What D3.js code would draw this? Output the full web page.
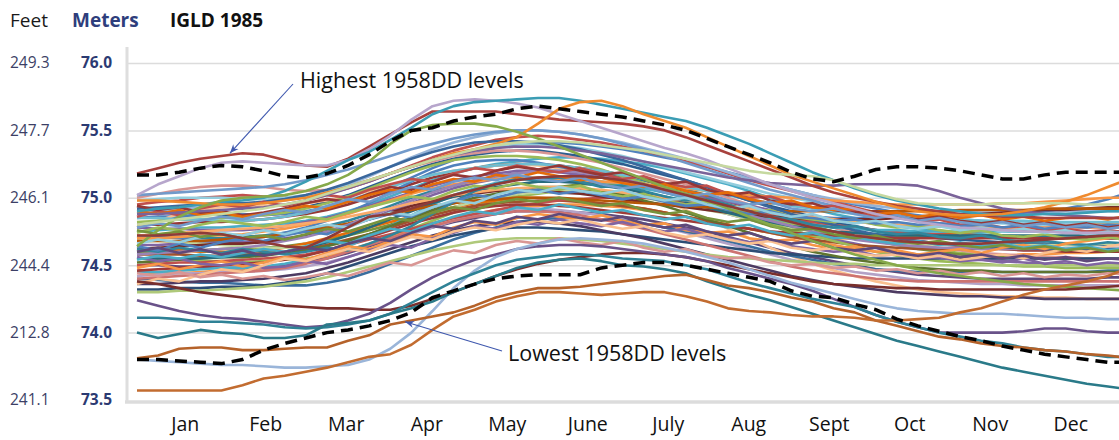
<!DOCTYPE html>
<html>
<head>
<meta charset="utf-8">
<script src="https://cdn.jsdelivr.net/npm/d3@7"></script>
<style>
  body { margin: 0; background: #fff; overflow: hidden; }
  text { font-family: "Open Sans", "Noto Sans", sans-serif; }
</style>
</head>
<body>
<svg id="chart" width="1119" height="440"></svg>
<script>
// months on the axis, values are quarter-monthly (48 per year)
var months = ['Jan', 'Feb', 'Mar', 'Apr', 'May', 'June', 'July', 'Aug', 'Sept', 'Oct', 'Nov', 'Dec']
var meterTicks = [73.5, 74.0, 74.5, 75.0, 75.5, 76.0]
var feetTicks = ['241.1', '212.8', '244.4', '246.1', '247.7', '249.3']

var highest1958DD = [75.17,75.17,75.19,75.22, 75.24,75.23,75.20,75.16, 75.15,75.18,75.24,75.32, 75.42,75.50,75.52,75.57, 75.60,75.62,75.66,75.68, 75.66,75.64,75.62,75.60, 75.57,75.54,75.50,75.44, 75.38,75.32,75.26,75.19, 75.14,75.12,75.16,75.21, 75.23,75.23,75.22,75.20, 75.17,75.14,75.14,75.17, 75.19,75.19,75.19,75.19]
var lowest1958DD = [73.80,73.80,73.79,73.78, 73.77,73.80,73.87,73.92, 73.96,74.00,74.02,74.05, 74.09,74.15,74.26,74.31, 74.36,74.40,74.42,74.43, 74.43,74.43,74.48,74.50, 74.52,74.52,74.50,74.47, 74.44,74.41,74.38,74.31, 74.27,74.26,74.21,74.17, 74.10,74.05,74.01,73.97, 73.94,73.90,73.87,73.84, 73.82,73.80,73.78,73.78]

// one row per year (quarter-monthly lake levels, metres)
var yearLevels = [
  [74.85,74.86,74.86,74.87, 74.88,74.88,74.87,74.88, 74.90,74.93,74.97,75.02, 75.08,75.15,75.22,75.28, 75.33,75.37,75.40,75.41, 75.41,75.40,75.38,75.36, 75.33,75.30,75.27,75.23, 75.19,75.15,75.10,75.06, 75.02,74.98,74.95,74.92, 74.89,74.87,74.85,74.84, 74.83,74.82,74.81,74.81, 74.80,74.80,74.81,74.81],
  [74.95,74.97,74.98,75.00, 75.01,75.02,75.01,75.00, 75.01,75.03,75.07,75.12, 75.18,75.24,75.30,75.35, 75.39,75.43,75.45,75.46, 75.45,75.43,75.41,75.38, 75.35,75.31,75.27,75.23, 75.18,75.13,75.09,75.05, 75.01,74.97,74.93,74.89, 74.86,74.83,74.81,74.79, 74.78,74.77,74.76,74.76, 74.75,74.75,74.75,74.75],
  [74.55,74.54,74.54,74.53, 74.53,74.52,74.53,74.54, 74.55,74.57,74.60,74.65, 74.71,74.77,74.83,74.89, 74.94,74.98,75.01,75.03, 75.05,75.05,75.04,75.03, 75.01,74.99,74.96,74.93, 74.90,74.87,74.84,74.81, 74.78,74.75,74.72,74.69, 74.66,74.63,74.61,74.59, 74.58,74.57,74.56,74.56, 74.55,74.55,74.55,74.55],
  [74.65,74.65,74.66,74.66, 74.67,74.67,74.68,74.70, 74.72,74.75,74.79,74.84, 74.90,74.96,75.02,75.07, 75.11,75.14,75.15,75.15, 75.14,75.12,75.10,75.07, 75.04,75.00,74.96,74.92, 74.88,74.84,74.80,74.76, 74.72,74.69,74.66,74.63, 74.60,74.58,74.56,74.55, 74.54,74.53,74.52,74.51, 74.51,74.50,74.50,74.50],
  [74.75,74.76,74.77,74.78, 74.78,74.79,74.80,74.81, 74.83,74.86,74.90,74.95, 75.01,75.07,75.13,75.18, 75.22,75.25,75.27,75.29, 75.30,75.30,75.29,75.27, 75.25,75.22,75.18,75.14, 75.10,75.05,75.00,74.96, 74.92,74.88,74.85,74.82, 74.79,74.77,74.75,74.74, 74.73,74.72,74.71,74.71, 74.70,74.70,74.70,74.70],
  [74.45,74.44,74.44,74.45, 74.46,74.46,74.47,74.49, 74.52,74.56,74.61,74.66, 74.71,74.76,74.81,74.85, 74.88,74.91,74.93,74.94, 74.95,74.95,74.94,74.93, 74.91,74.89,74.86,74.83, 74.80,74.77,74.74,74.71, 74.68,74.65,74.62,74.60, 74.58,74.57,74.56,74.56, 74.57,74.57,74.58,74.58, 74.59,74.59,74.60,74.60],
  [74.90,74.90,74.89,74.88, 74.87,74.87,74.88,74.90, 74.93,74.97,75.02,75.08, 75.14,75.20,75.25,75.29, 75.32,75.34,75.35,75.35, 75.33,75.31,75.28,75.25, 75.21,75.17,75.13,75.08, 75.03,74.98,74.94,74.90, 74.86,74.82,74.79,74.76, 74.74,74.72,74.70,74.69, 74.68,74.67,74.66,74.66, 74.65,74.65,74.65,74.65],
  [74.80,74.80,74.81,74.82, 74.82,74.83,74.84,74.86, 74.88,74.91,74.95,75.00, 75.05,75.10,75.15,75.19, 75.22,75.24,75.25,75.25, 75.24,75.22,75.20,75.17, 75.13,75.09,75.05,75.01, 74.97,74.93,74.89,74.85, 74.81,74.78,74.75,74.72, 74.70,74.68,74.66,74.64, 74.63,74.62,74.61,74.61, 74.60,74.60,74.60,74.60],
  [74.60,74.60,74.61,74.61, 74.62,74.63,74.63,74.64, 74.66,74.69,74.72,74.76, 74.80,74.85,74.89,74.93, 74.97,75.00,75.03,75.06, 75.08,75.10,75.10,75.09, 75.07,75.05,75.02,74.99, 74.95,74.91,74.87,74.83, 74.79,74.75,74.71,74.68, 74.65,74.62,74.60,74.58, 74.57,74.56,74.55,74.55, 74.55,74.55,74.55,74.55],
  [74.50,74.50,74.49,74.49, 74.48,74.48,74.49,74.50, 74.52,74.55,74.59,74.64, 74.69,74.74,74.78,74.82, 74.85,74.88,74.90,74.90, 74.90,74.89,74.88,74.86, 74.84,74.81,74.78,74.75, 74.71,74.67,74.63,74.59, 74.56,74.53,74.50,74.47, 74.45,74.43,74.42,74.41, 74.40,74.40,74.40,74.40, 74.40,74.40,74.41,74.41],
  [74.70,74.71,74.71,74.70, 74.70,74.71,74.72,74.74, 74.76,74.79,74.83,74.88, 74.94,75.00,75.05,75.09, 75.13,75.16,75.18,75.20, 75.20,75.19,75.18,75.16, 75.13,75.10,75.06,75.02, 74.98,74.94,74.90,74.86, 74.83,74.80,74.78,74.76, 74.74,74.73,74.72,74.71, 74.71,74.70,74.70,74.70, 74.70,74.70,74.71,74.71],
  [74.62,74.62,74.61,74.60, 74.60,74.60,74.61,74.63, 74.66,74.70,74.74,74.78, 74.82,74.86,74.90,74.93, 74.96,74.98,75.00,75.00, 74.99,74.98,74.96,74.94, 74.92,74.89,74.86,74.83, 74.80,74.77,74.75,74.73, 74.71,74.70,74.70,74.70, 74.71,74.72,74.73,74.74, 74.75,74.76,74.77,74.78, 74.79,74.80,74.81,74.82],
  [74.88,74.90,74.92,74.93, 74.94,74.95,74.96,74.98, 75.01,75.05,75.10,75.16, 75.23,75.30,75.36,75.41, 75.45,75.48,75.50,75.50, 75.49,75.47,75.44,75.41, 75.37,75.33,75.29,75.24, 75.19,75.14,75.10,75.06, 75.02,74.99,74.96,74.94, 74.92,74.91,74.90,74.90, 74.89,74.89,74.89,74.89, 74.90,74.90,74.90,74.90],
  [75.00,75.03,75.06,75.08, 75.09,75.09,75.08,75.06, 75.05,75.06,75.09,75.13, 75.18,75.23,75.27,75.31, 75.33,75.35,75.35,75.34, 75.32,75.29,75.26,75.22, 75.18,75.14,75.10,75.05, 75.00,74.95,74.90,74.86, 74.82,74.78,74.74,74.71, 74.68,74.65,74.63,74.61, 74.59,74.58,74.57,74.56, 74.56,74.55,74.55,74.55],
  [74.68,74.68,74.67,74.66, 74.65,74.64,74.63,74.63, 74.64,74.66,74.69,74.73, 74.78,74.83,74.88,74.93, 74.97,75.00,75.03,75.04, 75.05,75.05,75.04,75.02, 75.00,74.97,74.94,74.91, 74.88,74.84,74.81,74.78, 74.75,74.72,74.70,74.68, 74.67,74.66,74.65,74.65, 74.65,74.65,74.65,74.65, 74.65,74.65,74.66,74.66],
  [74.42,74.43,74.44,74.44, 74.45,74.45,74.46,74.47, 74.49,74.52,74.56,74.61, 74.67,74.73,74.78,74.83, 74.87,74.90,74.92,74.92, 74.91,74.89,74.87,74.84, 74.81,74.78,74.74,74.70, 74.66,74.62,74.58,74.54, 74.51,74.48,74.45,74.43, 74.41,74.39,74.38,74.37, 74.36,74.36,74.35,74.35, 74.35,74.35,74.35,74.35],
  [74.98,74.99,75.00,75.00, 75.00,74.99,74.99,75.00, 75.02,75.05,75.09,75.13, 75.18,75.23,75.28,75.32, 75.36,75.38,75.40,75.40, 75.39,75.37,75.34,75.31, 75.27,75.23,75.19,75.15, 75.11,75.07,75.03,75.00, 74.97,74.94,74.91,74.89, 74.87,74.85,74.84,74.83, 74.82,74.81,74.81,74.80, 74.80,74.80,74.80,74.80],
  [74.78,74.83,74.88,74.91, 74.93,74.94,74.94,74.95, 74.96,74.98,75.01,75.05, 75.09,75.13,75.17,75.20, 75.22,75.24,75.25,75.24, 75.22,75.19,75.15,75.10, 75.04,74.98,74.91,74.84, 74.77,74.70,74.63,74.57, 74.51,74.46,74.42,74.38, 74.35,74.32,74.30,74.29, 74.28,74.27,74.27,74.26, 74.26,74.25,74.25,74.25],
  [74.40,74.39,74.38,74.37, 74.37,74.36,74.35,74.35, 74.35,74.37,74.40,74.45, 74.51,74.57,74.63,74.69, 74.74,74.78,74.82,74.84, 74.85,74.85,74.84,74.83, 74.81,74.78,74.75,74.72, 74.68,74.64,74.60,74.57, 74.54,74.51,74.49,74.47, 74.46,74.45,74.45,74.45, 74.45,74.45,74.45,74.45, 74.45,74.45,74.46,74.46],
  [74.58,74.58,74.58,74.57, 74.57,74.58,74.59,74.60, 74.62,74.65,74.69,74.73, 74.78,74.83,74.87,74.91, 74.94,74.96,74.97,74.98, 74.98,74.97,74.96,74.94, 74.92,74.89,74.86,74.83, 74.80,74.77,74.74,74.71, 74.69,74.67,74.65,74.64, 74.63,74.62,74.62,74.62, 74.62,74.62,74.62,74.62, 74.62,74.62,74.62,74.62],
  [74.72,74.71,74.70,74.68, 74.68,74.69,74.71,74.74, 74.78,74.83,74.89,74.96, 75.04,75.12,75.19,75.24, 75.27,75.28,75.28,75.26, 75.23,75.20,75.16,75.12, 75.08,75.04,75.00,74.97, 74.94,74.91,74.89,74.87, 74.86,74.85,74.85,74.85, 74.86,74.86,74.87,74.87, 74.88,74.88,74.89,74.90, 74.92,74.95,74.99,75.04],
  [74.50,74.51,74.52,74.52, 74.53,74.54,74.55,74.56, 74.58,74.61,74.65,74.69, 74.73,74.77,74.81,74.85, 74.88,74.91,74.94,74.96, 74.98,74.99,75.00,75.00, 75.00,74.99,74.97,74.95, 74.93,74.90,74.87,74.84, 74.82,74.80,74.78,74.76, 74.75,74.74,74.73,74.72, 74.72,74.71,74.71,74.70, 74.70,74.70,74.70,74.70],
  [74.82,74.83,74.84,74.84, 74.85,74.86,74.87,74.89, 74.92,74.96,75.01,75.07, 75.13,75.19,75.24,75.28, 75.30,75.31,75.31,75.30, 75.28,75.25,75.21,75.16, 75.11,75.06,75.01,74.96, 74.91,74.86,74.81,74.76, 74.72,74.68,74.64,74.60, 74.57,74.55,74.53,74.52, 74.51,74.50,74.49,74.49, 74.48,74.48,74.48,74.48],
  [74.78,74.77,74.77,74.76, 74.76,74.76,74.77,74.79, 74.82,74.85,74.89,74.94, 74.99,75.04,75.09,75.13, 75.16,75.18,75.20,75.20, 75.19,75.17,75.15,75.12, 75.09,75.06,75.03,75.00, 74.97,74.94,74.91,74.88, 74.86,74.84,74.82,74.81, 74.80,74.79,74.79,74.78, 74.78,74.78,74.78,74.78, 74.78,74.78,74.78,74.78],
  [74.45,74.45,74.46,74.47, 74.48,74.48,74.49,74.51, 74.54,74.58,74.64,74.71, 74.79,74.87,74.95,75.02, 75.07,75.11,75.14,75.15, 75.15,75.14,75.12,75.10, 75.07,75.04,75.00,74.96, 74.92,74.88,74.85,74.82, 74.80,74.78,74.77,74.76, 74.76,74.75,74.75,74.75, 74.75,74.75,74.75,74.75, 74.75,74.75,74.75,74.75],
  [74.70,74.70,74.71,74.72, 74.72,74.73,74.75,74.77, 74.80,74.84,74.88,74.93, 74.98,75.03,75.07,75.10, 75.12,75.14,75.15,75.15, 75.14,75.13,75.12,75.11, 75.10,75.08,75.07,75.05, 75.04,75.02,75.01,75.00, 74.99,74.98,74.97,74.96, 74.95,74.95,74.95,74.95, 74.95,74.96,74.96,74.97, 74.98,74.99,75.00,75.00],
  [74.32,74.32,74.33,74.33, 74.34,74.34,74.35,74.37, 74.40,74.44,74.49,74.54, 74.59,74.64,74.68,74.72, 74.75,74.77,74.78,74.78, 74.77,74.76,74.75,74.73, 74.71,74.69,74.67,74.65, 74.63,74.61,74.59,74.58, 74.57,74.56,74.55,74.55, 74.55,74.55,74.55,74.55, 74.55,74.55,74.55,74.55, 74.55,74.55,74.55,74.55],
  [74.62,74.63,74.64,74.65, 74.66,74.66,74.67,74.69, 74.72,74.75,74.79,74.84, 74.89,74.94,74.98,75.01, 75.03,75.05,75.05,75.05, 75.04,75.03,75.01,74.99, 74.97,74.95,74.93,74.91, 74.89,74.87,74.86,74.85, 74.84,74.84,74.84,74.84, 74.85,74.85,74.86,74.87, 74.88,74.89,74.90,74.91, 74.91,74.92,74.93,74.93],
  [74.52,74.53,74.54,74.55, 74.56,74.56,74.57,74.59, 74.61,74.64,74.68,74.73, 74.79,74.85,74.91,74.96, 75.00,75.03,75.06,75.08, 75.08,75.07,75.05,75.02, 74.98,74.94,74.89,74.84, 74.79,74.74,74.69,74.64, 74.60,74.57,74.54,74.52, 74.50,74.48,74.47,74.46, 74.46,74.45,74.45,74.45, 74.45,74.45,74.45,74.45],
  [74.36,74.36,74.37,74.38, 74.38,74.39,74.40,74.42, 74.44,74.48,74.52,74.57, 74.62,74.67,74.72,74.76, 74.79,74.81,74.82,74.82, 74.81,74.79,74.76,74.73, 74.70,74.66,74.62,74.58, 74.54,74.50,74.46,74.42, 74.39,74.36,74.34,74.32, 74.30,74.29,74.28,74.27, 74.27,74.26,74.26,74.25, 74.25,74.25,74.25,74.25],
  [74.55,74.55,74.55,74.55, 74.56,74.57,74.58,74.60, 74.63,74.67,74.72,74.78, 74.84,74.90,74.96,75.01, 75.05,75.08,75.10,75.12, 75.12,75.11,75.09,75.07, 75.04,75.01,74.97,74.93, 74.89,74.85,74.82,74.79, 74.77,74.75,74.74,74.73, 74.72,74.72,74.72,74.72, 74.72,74.72,74.72,74.72, 74.72,74.72,74.72,74.72],
  [74.68,74.68,74.68,74.68, 74.69,74.70,74.71,74.73, 74.75,74.78,74.81,74.85, 74.88,74.91,74.94,74.96, 74.98,74.99,75.00,75.00, 75.00,74.99,74.98,74.97, 74.96,74.95,74.94,74.93, 74.92,74.91,74.90,74.90, 74.90,74.90,74.90,74.90, 74.90,74.90,74.90,74.91, 74.91,74.91,74.91,74.92, 74.92,74.92,74.92,74.92],
  [75.02,75.03,75.04,75.05, 75.06,75.07,75.08,75.10, 75.13,75.17,75.21,75.26, 75.31,75.36,75.40,75.44, 75.47,75.49,75.50,75.50, 75.49,75.47,75.44,75.40, 75.36,75.31,75.26,75.21, 75.16,75.11,75.06,75.02, 74.98,74.94,74.91,74.88, 74.85,74.83,74.81,74.80, 74.79,74.78,74.77,74.76, 74.76,74.75,74.75,74.75],
  [74.40,74.41,74.42,74.43, 74.44,74.45,74.46,74.48, 74.51,74.55,74.60,74.65, 74.70,74.75,74.79,74.83, 74.86,74.88,74.90,74.90, 74.89,74.87,74.84,74.81, 74.77,74.73,74.69,74.65, 74.61,74.57,74.53,74.49, 74.46,74.44,74.42,74.40, 74.39,74.38,74.38,74.38, 74.38,74.38,74.38,74.38, 74.38,74.38,74.38,74.38],
  [74.30,74.30,74.31,74.31, 74.32,74.33,74.34,74.36, 74.38,74.41,74.45,74.49, 74.53,74.57,74.61,74.64, 74.67,74.69,74.70,74.70, 74.70,74.69,74.68,74.66, 74.64,74.62,74.60,74.58, 74.56,74.55,74.54,74.53, 74.52,74.51,74.51,74.50, 74.50,74.50,74.50,74.50, 74.50,74.50,74.50,74.50, 74.50,74.50,74.50,74.50],
  [74.58,74.59,74.60,74.61, 74.62,74.63,74.65,74.68, 74.71,74.75,74.80,74.86, 74.92,74.98,75.04,75.09, 75.13,75.16,75.18,75.20, 75.20,75.19,75.17,75.14, 75.10,75.06,75.02,74.97, 74.92,74.87,74.83,74.79, 74.75,74.72,74.69,74.67, 74.65,74.64,74.63,74.63, 74.62,74.62,74.62,74.62, 74.62,74.62,74.62,74.62],
  [74.85,74.85,74.84,74.84, 74.83,74.83,74.84,74.86, 74.89,74.93,74.98,75.03, 75.08,75.13,75.17,75.20, 75.22,75.24,75.25,75.25, 75.24,75.22,75.20,75.17, 75.14,75.11,75.08,75.05, 75.02,74.99,74.96,74.94, 74.92,74.90,74.88,74.87, 74.86,74.85,74.84,74.84, 74.83,74.83,74.83,74.82, 74.82,74.82,74.82,74.82],
  [74.72,74.73,74.74,74.75, 74.76,74.77,74.78,74.79, 74.81,74.83,74.86,74.89, 74.92,74.96,74.99,75.02, 75.04,75.06,75.07,75.08, 75.08,75.07,75.06,75.04, 75.02,75.00,74.98,74.96, 74.94,74.92,74.90,74.88, 74.86,74.84,74.82,74.81, 74.80,74.79,74.79,74.78, 74.78,74.78,74.78,74.78, 74.78,74.78,74.78,74.78],
  [74.92,74.93,74.94,74.95, 74.96,74.96,74.97,74.99, 75.02,75.06,75.11,75.17, 75.23,75.29,75.34,75.38, 75.41,75.42,75.42,75.41, 75.39,75.36,75.32,75.28, 75.23,75.18,75.13,75.08, 75.03,74.98,74.93,74.88, 74.84,74.80,74.76,74.73, 74.70,74.68,74.66,74.65, 74.64,74.63,74.63,74.62, 74.62,74.62,74.62,74.62],
  [74.46,74.47,74.48,74.49, 74.50,74.51,74.52,74.54, 74.57,74.61,74.66,74.71, 74.76,74.81,74.85,74.89, 74.92,74.94,74.95,74.95, 74.94,74.93,74.91,74.89, 74.87,74.85,74.83,74.81, 74.79,74.77,74.75,74.74, 74.73,74.72,74.71,74.71, 74.70,74.70,74.70,74.70, 74.70,74.70,74.70,74.70, 74.70,74.70,74.70,74.70],
  [74.62,74.60,74.63,74.61, 74.59,74.62,74.60,74.58, 74.60,74.63,74.61,74.66, 74.72,74.79,74.88,74.97, 75.05,75.10,75.14,75.13, 75.15,75.12,75.08,75.09, 75.05,75.01,74.98,74.99, 74.95,74.90,74.86,74.84, 74.80,74.78,74.79,74.75, 74.73,74.74,74.71,74.70, 74.72,74.69,74.67,74.68, 74.66,74.65,74.67,74.66],
  [74.48,74.51,74.47,74.50, 74.53,74.49,74.52,74.56, 74.54,74.59,74.64,74.62, 74.68,74.73,74.71,74.78, 74.82,74.80,74.85,74.88, 74.86,74.84,74.87,74.83, 74.80,74.81,74.76,74.74, 74.75,74.70,74.68,74.69, 74.65,74.62,74.64,74.60, 74.61,74.58,74.60,74.62, 74.59,74.63,74.65,74.62, 74.66,74.68,74.70,74.73],
  [74.86,74.90,74.87,74.92, 74.95,74.93,74.97,74.94, 74.98,75.02,75.00,75.06, 75.10,75.14,75.12,75.18, 75.22,75.20,75.24,75.21, 75.19,75.22,75.18,75.14, 75.16,75.11,75.08,75.09, 75.03,75.00,75.01,74.96, 74.93,74.94,74.90,74.86, 74.87,74.83,74.84,74.80, 74.81,74.78,74.79,74.76, 74.77,74.75,74.76,74.74],
  [74.56,74.53,74.55,74.51, 74.50,74.52,74.48,74.49, 74.53,74.51,74.56,74.61, 74.65,74.63,74.70,74.74, 74.79,74.77,74.82,74.80, 74.84,74.81,74.79,74.82, 74.78,74.75,74.77,74.72, 74.70,74.67,74.69,74.64, 74.62,74.60,74.61,74.57, 74.58,74.55,74.56,74.53, 74.54,74.52,74.55,74.51, 74.53,74.50,74.52,74.51],
  [74.74,74.78,74.76,74.80, 74.83,74.81,74.79,74.82, 74.86,74.84,74.89,74.93, 74.97,75.01,74.99,75.05, 75.09,75.07,75.11,75.08, 75.06,75.09,75.04,75.01, 75.03,74.98,74.95,74.97, 74.92,74.89,74.91,74.86, 74.84,74.82,74.84,74.80, 74.78,74.79,74.76,74.74, 74.76,74.72,74.71,74.73, 74.70,74.69,74.71,74.68],
  [74.64,74.61,74.66,74.63, 74.67,74.70,74.68,74.72, 74.75,74.73,74.79,74.84, 74.88,74.86,74.93,74.97, 75.02,75.00,75.04,75.06, 75.03,75.05,75.02,74.99, 75.01,74.97,74.94,74.95, 74.91,74.88,74.90,74.86, 74.85,74.83,74.84,74.81, 74.82,74.80,74.81,74.79, 74.80,74.78,74.80,74.77, 74.79,74.78,74.80,74.79],
  [74.36,74.40,74.38,74.43, 74.47,74.45,74.50,74.55, 74.53,74.58,74.62,74.60, 74.66,74.71,74.69,74.75, 74.78,74.76,74.80,74.83, 74.81,74.84,74.80,74.77, 74.79,74.74,74.71,74.73, 74.69,74.66,74.68,74.63, 74.61,74.63,74.59,74.57, 74.58,74.55,74.57,74.54, 74.56,74.58,74.55,74.59, 74.62,74.60,74.64,74.66],
  [74.94,74.91,74.93,74.89, 74.90,74.87,74.89,74.92, 74.96,74.99,74.97,75.03, 75.08,75.06,75.12,75.17, 75.15,75.20,75.23,75.21, 75.24,75.20,75.17,75.19, 75.14,75.10,75.12,75.06, 75.02,75.04,74.98,74.95, 74.96,74.91,74.89,74.90, 74.86,74.84,74.86,74.83, 74.81,74.83,74.80,74.82, 74.79,74.81,74.78,74.80],
  [74.54,74.57,74.55,74.58, 74.56,74.59,74.62,74.60, 74.64,74.68,74.66,74.72, 74.77,74.75,74.81,74.86, 74.90,74.88,74.93,74.91, 74.95,74.92,74.89,74.91, 74.87,74.84,74.86,74.81, 74.78,74.80,74.75,74.72, 74.74,74.70,74.71,74.68, 74.66,74.68,74.65,74.67, 74.64,74.66,74.63,74.65, 74.62,74.64,74.61,74.63],
  [74.44,74.42,74.45,74.41, 74.43,74.40,74.42,74.39, 74.41,74.44,74.42,74.47, 74.52,74.50,74.56,74.61, 74.59,74.65,74.68,74.66, 74.70,74.67,74.65,74.68, 74.63,74.60,74.62,74.57, 74.55,74.56,74.52,74.50, 74.51,74.48,74.49,74.46, 74.47,74.44,74.46,74.43, 74.45,74.42,74.44,74.41, 74.43,74.42,74.44,74.43],
  [74.90,74.88,74.91,74.87, 74.89,74.86,74.88,74.91, 74.94,74.92,74.97,75.02, 75.06,75.04,75.10,75.14, 75.12,75.17,75.15,75.19, 75.16,75.13,75.15,75.11, 75.08,75.10,75.05,75.02, 75.04,74.99,74.96,74.98, 74.93,74.91,74.92,74.88, 74.89,74.86,74.88,74.85, 74.87,74.84,74.86,74.83, 74.85,74.86,74.84,74.87],
  [74.78,74.81,74.79,74.83, 74.86,74.84,74.88,74.91, 74.89,74.94,74.99,74.97, 75.03,75.08,75.06,75.12, 75.15,75.13,75.17,75.14, 75.12,75.15,75.10,75.07, 75.09,75.04,75.01,75.03, 74.98,74.95,74.97,74.92, 74.90,74.92,74.88,74.85, 74.87,74.83,74.85,74.82, 74.80,74.82,74.79,74.81, 74.78,74.80,74.77,74.79],
  [74.60,74.63,74.59,74.62, 74.58,74.61,74.57,74.60, 74.63,74.61,74.66,74.70, 74.68,74.74,74.79,74.77, 74.83,74.81,74.86,74.84, 74.88,74.85,74.83,74.86, 74.81,74.78,74.80,74.75, 74.72,74.74,74.69,74.66, 74.68,74.63,74.61,74.63, 74.59,74.57,74.59,74.56, 74.58,74.55,74.57,74.54, 74.56,74.53,74.55,74.54],
  [74.66,74.69,74.67,74.71, 74.74,74.72,74.76,74.73, 74.77,74.80,74.78,74.84, 74.89,74.87,74.93,74.98, 74.96,75.02,75.06,75.04, 75.08,75.05,75.03,75.06, 75.01,74.98,75.00,74.95, 74.92,74.94,74.89,74.86, 74.88,74.83,74.81,74.83, 74.79,74.77,74.79,74.76, 74.78,74.75,74.77,74.74, 74.76,74.73,74.75,74.74],
  [74.76,74.73,74.75,74.71, 74.73,74.70,74.72,74.69, 74.73,74.77,74.75,74.80, 74.85,74.83,74.89,74.93, 74.91,74.96,74.99,74.97, 75.00,74.97,74.94,74.96, 74.91,74.88,74.90,74.85, 74.82,74.84,74.79,74.76, 74.77,74.73,74.70,74.72, 74.68,74.66,74.68,74.65, 74.63,74.65,74.62,74.64, 74.61,74.63,74.60,74.62],
  // the years that stand out at the edges of the bundle
  [74.88,74.88,74.89,74.90, 74.91,74.92,74.93,74.95, 74.98,75.02,75.07,75.12, 75.18,75.23,75.28,75.32, 75.35,75.37,75.38,75.38, 75.37,75.35,75.33,75.30, 75.27,75.24,75.21,75.18, 75.15,75.13,75.11,75.10, 75.09,75.09,75.10,75.10, 75.10,75.09,75.05,75.00, 74.96,74.92,74.90,74.88, 74.87,74.86,74.85,74.85],
  [75.18,75.22,75.26,75.29, 75.31,75.33,75.32,75.28, 75.24,75.23,75.29,75.38, 75.47,75.56,75.64,75.64, 75.64,75.64,75.62,75.60, 75.58,75.57,75.56,75.55, 75.53,75.50,75.45,75.39, 75.33,75.27,75.21,75.15, 75.09,75.04,75.00,74.97, 74.94,74.92,74.90,74.88, 74.87,74.86,74.86,74.85, 74.85,74.85,74.85,74.85],
  [75.02,75.10,75.16,75.22, 75.26,75.27,75.26,75.25, 75.24,75.24,75.28,75.36, 75.46,75.58,75.68,75.72, 75.73,75.72,75.70,75.67, 75.62,75.57,75.52,75.47, 75.42,75.37,75.33,75.28, 75.22,75.16,75.10,75.05, 75.00,74.96,74.92,74.88, 74.85,74.82,74.80,74.78, 74.77,74.76,74.75,74.75, 74.74,74.74,74.74,74.74],
  [74.90,74.92,74.93,74.95, 74.97,74.98,75.00,75.05, 75.12,75.20,75.28,75.34, 75.43,75.52,75.62,75.68, 75.71,75.72,75.73,75.74, 75.74,75.72,75.69,75.66, 75.63,75.60,75.57,75.52, 75.46,75.40,75.33,75.26, 75.19,75.13,75.07,75.02, 74.98,74.95,74.92,74.90, 74.88,74.87,74.87,74.88, 74.88,74.89,74.90,74.90],
  [74.98,74.98,74.97,74.96, 74.95,74.95,74.96,74.98, 75.00,75.04,75.08,75.13, 75.18,75.23,75.28,75.33, 75.36,75.40,75.45,75.55, 75.66,75.71,75.72,75.68, 75.62,75.57,75.52,75.45, 75.38,75.31,75.24,75.17, 75.12,75.07,75.02,74.97, 74.93,74.90,74.88,74.87, 74.87,74.88,74.90,74.93, 74.97,75.02,75.08,75.14],
  [74.64,74.76,74.86,74.93, 74.98,75.00,75.01,75.02, 75.05,75.10,75.17,75.27, 75.40,75.50,75.54,75.55, 75.55,75.53,75.49,75.44, 75.38,75.32,75.26,75.20, 75.14,75.08,75.03,74.98, 74.92,74.86,74.80,74.74, 74.68,74.63,74.58,74.54, 74.50,74.47,74.44,74.42, 74.40,74.38,74.36,74.35, 74.34,74.33,74.32,74.31],
  [74.80,74.82,74.84,74.86, 74.88,74.90,74.92,74.95, 74.98,75.03,75.08,75.13, 75.18,75.23,75.28,75.32, 75.36,75.39,75.41,75.42, 75.42,75.41,75.39,75.37, 75.35,75.32,75.29,75.26, 75.23,75.20,75.18,75.17, 75.16,75.13,75.08,75.03, 74.99,74.96,74.95,74.95, 74.95,74.96,74.96,74.96, 74.96,74.95,74.95,74.95],
  [74.38,74.36,74.33,74.30, 74.28,74.26,74.23,74.20, 74.19,74.18,74.18,74.17, 74.17,74.20,74.25,74.30, 74.36,74.42,74.47,74.51, 74.54,74.56,74.58,74.59, 74.59,74.58,74.56,74.53, 74.50,74.47,74.44,74.41, 74.38,74.36,74.35,74.34, 74.33,74.33,74.32,74.32, 74.32,74.32,74.32,74.32, 74.32,74.33,74.34,74.35],
  [74.72,74.72,74.73,74.74, 74.73,74.70,74.67,74.64, 74.63,74.70,74.78,74.86, 74.88,74.92,74.97,75.02, 75.06,75.10,75.13,75.15, 75.16,75.16,75.15,75.13, 75.10,75.06,75.02,74.98, 74.94,74.90,74.86,74.82, 74.78,74.75,74.72,74.70, 74.68,74.67,74.66,74.66, 74.66,74.67,74.68,74.69, 74.70,74.71,74.72,74.72],
  [74.24,74.20,74.16,74.13, 74.11,74.10,74.08,74.06, 74.04,74.05,74.09,74.14, 74.22,74.32,74.41,74.48, 74.54,74.58,74.62,74.64, 74.65,74.65,74.64,74.62, 74.60,74.58,74.56,74.53, 74.48,74.44,74.40,74.36, 74.31,74.25,74.19,74.13, 74.08,74.04,74.00,74.00, 74.00,74.00,74.01,74.03, 74.03,74.01,74.00,74.00],
  [73.80,73.79,73.78,73.77, 73.76,73.76,73.75,73.74, 73.74,73.75,73.76,73.80, 73.88,74.00,74.16,74.33, 74.46,74.56,74.62,74.66, 74.69,74.70,74.69,74.68, 74.66,74.63,74.60,74.56, 74.52,74.47,74.42,74.37, 74.33,74.29,74.25,74.21, 74.18,74.16,74.15,74.14, 74.14,74.14,74.13,74.12, 74.11,74.11,74.10,74.10],
  [74.11,74.11,74.10,74.08, 74.08,74.07,74.06,74.04, 74.03,74.04,74.06,74.09, 74.14,74.22,74.30,74.38, 74.44,74.50,74.54,74.56, 74.58,74.58,74.57,74.55, 74.54,74.53,74.50,74.47, 74.42,74.37,74.33,74.29, 74.25,74.22,74.19,74.13, 74.08,74.04,74.00,73.97, 73.94,73.92,73.89,73.87, 73.86,73.84,73.82,73.82],
  [74.00,73.96,73.99,74.02, 74.00,73.99,73.96,73.96, 73.98,74.06,74.07,74.09, 74.14,74.18,74.23,74.30, 74.36,74.42,74.48,74.52, 74.54,74.55,74.53,74.50, 74.49,74.47,74.44,74.38, 74.33,74.28,74.24,74.19, 74.14,74.09,74.04,73.99, 73.94,73.90,73.86,73.82, 73.78,73.74,73.71,73.68, 73.65,73.62,73.60,73.58],
  [73.81,73.83,73.88,73.89, 73.89,73.87,73.87,73.88, 73.89,73.89,73.94,73.98, 74.06,74.09,74.12,74.15, 74.20,74.26,74.30,74.33, 74.33,74.34,74.36,74.38, 74.40,74.42,74.43,74.39, 74.35,74.33,74.30,74.26, 74.23,74.18,74.15,74.09, 74.05,74.01,73.97,73.95, 73.92,73.90,73.89,73.87, 73.86,73.84,73.83,73.81],
  [73.57,73.57,73.57,73.57, 73.57,73.61,73.66,73.68, 73.71,73.74,73.78,73.82, 73.84,73.91,74.02,74.12, 74.17,74.23,74.27,74.30, 74.30,74.29,74.28,74.29, 74.30,74.30,74.27,74.23, 74.18,74.16,74.15,74.13, 74.12,74.12,74.11,74.09, 74.09,74.10,74.11,74.15, 74.18,74.23,74.28,74.32, 74.35,74.38,74.42,74.48]
]

var yearColors = ['#4F81BD','#C0504D','#9BBB59','#8064A2','#4BACC6','#F79646','#2C5D8F','#953735','#77933C','#5F497A',
  '#31859C','#E46C0A','#95B3D7','#D99694','#C3D69B','#B3A2C7','#93CDDD','#FAC090','#3A6E9E','#A0522D',
  '#4F81BD','#C0504D','#9BBB59','#8064A2','#4BACC6','#F79646','#2C4D75','#772C2A','#5F7530','#4D3B62',
  '#276A7C','#B65708','#729ACA','#CD7371','#AFC97A','#9983B5','#6FBDD1','#F9AB6B','#3A679C','#9F3B38',
  '#31859C','#F79646','#C0504D','#8064A2','#9BBB59','#4F81BD','#FAC090','#953735','#4BACC6','#D99694',
  '#E46C0A','#729ACA','#5F497A','#93CDDD','#77933C',
  '#7A6399','#A8423E','#B7A6CC','#3B9DB4','#EF8A2E','#86A94A','#C6D9A0','#7A2F2C','#8E3B38','#695289',
  '#9AB5D9','#2F8296','#2A7A89','#B5622A','#C26C30']

///////////////////////////////

var svg = d3.select('#chart')

var x = d3.scalePoint().domain(d3.range(highest1958DD.length)).range([137, 1129])
var y = d3.scaleLinear().domain([73.5, 76.0]).range([400, 63])
var xMonth = d3.scaleBand().domain(months).range([145, 1111])

// header
var head = svg.append('g').attr('font-size', 19)
head.append('text').attr('x', 10).attr('y', 27).attr('fill', '#1a1a1a').text('Feet')
head.append('text').attr('x', 72).attr('y', 27).attr('fill', '#2E3E7C').attr('font-weight', 700).text('Meters')
head.append('text').attr('x', 170).attr('y', 27).attr('fill', '#111').attr('font-weight', 700).text('IGLD 1985')

// gridlines
var grid = svg.append('g')
    .attr('transform', 'translate(127,0)')
    .call(d3.axisRight(y).tickValues(meterTicks.slice(1)).tickSize(1119 - 127).tickFormat(''))
grid.select('.domain').remove()
grid.selectAll('line').attr('stroke', '#dcdcdc').attr('stroke-width', 1.5)

// left axis line and bottom axis line
svg.append('line').attr('x1', 127).attr('x2', 127).attr('y1', 47).attr('y2', 403)
    .attr('stroke', '#dedede').attr('stroke-width', 3)
svg.append('line').attr('x1', 125).attr('x2', 1119).attr('y1', y(73.5) + 2).attr('y2', y(73.5) + 2)
    .attr('stroke', '#dcdcdc').attr('stroke-width', 3.5)

// metre labels
var mAxis = svg.append('g')
    .attr('transform', 'translate(112,0)')
    .call(d3.axisLeft(y).tickValues(meterTicks).tickSize(0).tickPadding(0).tickFormat(d3.format('.1f')))
mAxis.select('.domain').remove()
mAxis.selectAll('text').attr('font-size', 15.5).attr('font-weight', 700).attr('fill', '#2B3A72')
    .attr('font-family', '"Open Sans", sans-serif')

// feet labels
var fAxis = svg.append('g')
    .attr('transform', 'translate(10,0)')
    .call(d3.axisRight(y).tickValues(meterTicks).tickSize(0).tickPadding(0)
        .tickFormat(function(d, i){ return feetTicks[i] }))
fAxis.select('.domain').remove()
fAxis.selectAll('text').attr('font-size', 15.5).attr('fill', '#3C3F66')
    .attr('font-family', '"Open Sans", sans-serif')

// month labels
var xAxis = svg.append('g')
    .attr('transform', 'translate(0,' + (y(73.5) + 1) + ')')
    .call(d3.axisBottom(xMonth).tickSize(0).tickPadding(16))
xAxis.select('.domain').remove()
xAxis.selectAll('text').attr('font-size', 19.5).attr('fill', '#111')
    .attr('font-family', '"Open Sans", sans-serif')

// year lines
var line = d3.line()
    .x(function(d, i){ return x(i) })
    .y(function(d){ return y(d) })

svg.append('g').selectAll('path')
    .data(yearLevels)
    .enter()
    .append('path')
    .attr('d', line)
    .attr('fill', 'none')
    .attr('stroke', function(d, i){ return yearColors[i % yearColors.length] })
    .attr('stroke-width', 2.6)
    .attr('stroke-linejoin', 'round')

// 1958DD envelopes
svg.append('g').selectAll('path')
    .data([highest1958DD, lowest1958DD])
    .enter()
    .append('path')
    .attr('d', line)
    .attr('fill', 'none')
    .attr('stroke', '#000')
    .attr('stroke-width', 3.5)
    .attr('stroke-dasharray', '12,7')

// annotations
svg.append('defs').append('marker')
    .attr('id', 'arrow')
    .attr('viewBox', '0 0 10 10')
    .attr('refX', 10).attr('refY', 5)
    .attr('markerWidth', 9).attr('markerHeight', 9)
    .attr('markerUnits', 'userSpaceOnUse')
    .attr('orient', 'auto')
    .append('path')
    .attr('d', 'M0,1 L10,5 L0,9 L3,5 Z')
    .attr('fill', '#3F58AE')

var notes = [
  {label: 'Highest 1958DD levels', tx: 300, ty: 88, from: [293, 84], at: 4.4, level: 75.33},
  {label: 'Lowest 1958DD levels', tx: 508, ty: 361, from: [502, 351], at: 12.7, level: 74.08}
]
notes.forEach(function(n){
    var tipX = x(0) + n.at * x.step()
    svg.append('line')
        .attr('x1', n.from[0]).attr('y1', n.from[1])
        .attr('x2', tipX).attr('y2', y(n.level))
        .attr('stroke', '#3F58AE').attr('stroke-width', 1.1)
        .attr('marker-end', 'url(#arrow)')
    svg.append('text').attr('x', n.tx).attr('y', n.ty)
        .attr('font-size', 21.5).attr('fill', '#111').text(n.label)
})
</script>
</body>
</html>
